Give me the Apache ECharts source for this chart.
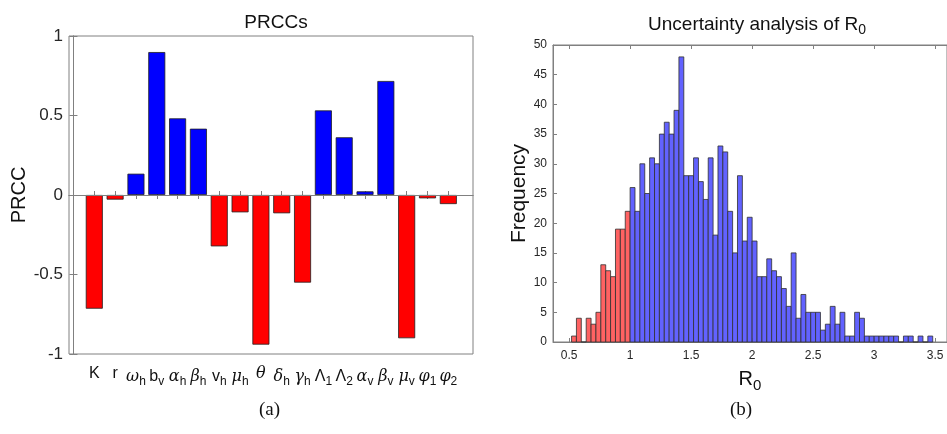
<!DOCTYPE html>
<html>
<head>
<meta charset="utf-8">
<script src="https://cdn.jsdelivr.net/npm/echarts@6/dist/echarts.min.js"></script>
<style>
html,body{margin:0;padding:0;background:#fff;}
#chart{width:947px;height:434px;}
</style>
</head>
<body>
<div id="chart"></div>
<script>
// ---------- Data: PRCC (panel a) ----------
const prccCategories = ['K','r','ω_h','b_v','α_h','β_h','v_h','μ_h','θ','δ_h','γ_h','Λ_1','Λ_2','α_v','β_v','μ_v','φ_1','φ_2'];
const prccValues = [-0.715,-0.029,0.134,0.899,0.482,0.417,-0.323,-0.109,-0.941,-0.115,-0.551,0.532,0.363,0.023,0.717,-0.901,-0.021,-0.057];
const prccTicks = [-1,-0.5,0,0.5,1];

// ---------- Data: R0 histogram (panel b) ----------
const binWidth = 0.04;
const lowStart = 0.52;   // bins below R0 = 1 (red)
const lowCounts = [1,4,0,4,3,5,13,12,11,19,19,22];
const highStart = 1.0;   // bins from R0 = 1 (blue)
const highCounts = [26,22,30,25,31,30,35,37,35,39,48,28,28,31,27,24,31,18,33,32,22,15,28,17,21,17,11,11,14,12,11,9,6,15,4,8,5,5,5,2,3,6,3,5,1,1,5,4,1,1,1,1,1,1,1,0,1,1,0,1,0,1];
const r0Ticks = [0.5,1,1.5,2,2.5,3,3.5];
const freqTicks = [0,5,10,15,20,25,30,35,40,45,50];

// ---------- helpers ----------
const SANS = 'Liberation Sans, Arial, Helvetica, sans-serif';
const greek = 'ωαβμθδγφ';
function labelRich(lbl){
  const parts = lbl.split('_');
  const main = parts[0];
  const style = greek.indexOf(main) >= 0 ? 'g' : 'm';
  let s = '{' + style + '|' + main + '}';
  if (parts.length > 1) s += '{s|' + parts[1] + '}';
  return s;
}
function binsOf(start, counts){
  return counts.map((c,i) => [start + i*binWidth, start + (i+1)*binWidth, c]);
}
function histRender(fill){
  return function(params, api){
    const x0 = api.value(0), x1 = api.value(1), c = api.value(2);
    const p0 = api.coord([x0, c]);
    const p1 = api.coord([x1, 0]);
    return {
      type: 'rect',
      shape: {x: p0[0], y: p0[1], width: p1[0]-p0[0], height: Math.max(p1[1]-p0[1], 0.01)},
      style: {fill: fill, stroke: '#303030', lineWidth: 0.8}
    };
  };
}

const axisGray = '#808080';
const txt = '#262626';
const catIdx = prccCategories.map((c,i)=>i+1);

const chart = echarts.init(document.getElementById('chart'), null, {renderer:'canvas'});
const option = {
  animation: false,
  backgroundColor: '#ffffff',
  title: [
    {text: 'PRCCs', left: 271, top: 8, textAlign: 'center',
     textStyle: {fontFamily: SANS, fontSize: 19, fontWeight: 'normal', color: '#111'}},
    {text: 'Uncertainty analysis of R{s|0}', left: 752, top: 8, textAlign: 'center',
     textStyle: {fontFamily: SANS, fontSize: 19, fontWeight: 'normal', color: '#111',
       rich: {s: {fontFamily: SANS, fontSize: 14, color: '#111', padding: [10,0,0,0]}}}}
  ],
  grid: [
    {left: 69, top: 36, width: 404, height: 318, show: true, borderColor: axisGray, borderWidth: 1, containLabel: false},
    {left: 553, top: 45, width: 399, height: 297, show: true, borderColor: axisGray, borderWidth: 1, containLabel: false}
  ],
  xAxis: [
    {type: 'value', gridIndex: 0, min: -0.215, max: 19.185, position: 'bottom',
     axisLine: {show: true, lineStyle: {color: axisGray}},
     axisTick: {show: true, inside: true, length: 4, customValues: catIdx, lineStyle: {color: axisGray}},
     axisLabel: {show: true, customValues: catIdx, margin: 12, color: '#111',
       formatter: v => labelRich(prccCategories[Math.round(v)-1] || ''),
       rich: {
         m: {fontFamily: SANS, fontSize: 16, color: '#111'},
         g: {fontFamily: 'DejaVu Serif, Liberation Serif, serif', fontStyle: 'italic', fontSize: 16, color: '#111'},
         s: {fontFamily: SANS, fontSize: 12, color: '#111', padding: [10,0,0,0]}
       }},
     splitLine: {show: false}},
    {type: 'value', gridIndex: 0, min: -0.215, max: 19.185, position: 'top',
     axisLine: {show: true, lineStyle: {color: axisGray}},
     axisTick: {show: true, inside: true, length: 4, customValues: catIdx, lineStyle: {color: axisGray}},
     axisLabel: {show: false}, splitLine: {show: false}},
    {type: 'value', gridIndex: 1, min: 0.368, max: 3.597, position: 'bottom',
     name: 'R{s|0}', nameLocation: 'middle', nameGap: 24, nameMoveOverlap: false,
     nameTextStyle: {fontFamily: SANS, fontSize: 20, color: '#111',
       rich: {s: {fontFamily: SANS, fontSize: 15, color: '#111', padding: [12,0,0,0]}}},
     axisLine: {show: true, lineStyle: {color: axisGray}},
     axisTick: {show: true, inside: true, length: 4, customValues: r0Ticks, lineStyle: {color: axisGray}},
     axisLabel: {show: true, customValues: r0Ticks, margin: 8, fontFamily: SANS, fontSize: 12, color: txt},
     splitLine: {show: false}},
    {type: 'value', gridIndex: 1, min: 0.368, max: 3.597, position: 'top',
     axisLine: {show: true, lineStyle: {color: axisGray}},
     axisTick: {show: true, inside: true, length: 4, customValues: r0Ticks, lineStyle: {color: axisGray}},
     axisLabel: {show: false}, splitLine: {show: false}}
  ],
  yAxis: [
    {type: 'value', gridIndex: 0, min: -1, max: 1, interval: 0.5, position: 'left',
     name: 'PRCC', nameLocation: 'middle', nameGap: 28, nameRotate: 90,
     nameTextStyle: {fontFamily: SANS, fontSize: 20, color: '#111'},
     axisLine: {show: true, lineStyle: {color: axisGray}},
     axisTick: {show: true, inside: true, length: 4, lineStyle: {color: axisGray}},
     axisLabel: {margin: 6, fontFamily: SANS, fontSize: 17, color: txt},
     splitLine: {show: false}},
    {type: 'value', gridIndex: 0, min: -1, max: 1, interval: 0.5, position: 'right',
     axisLine: {show: true, lineStyle: {color: axisGray}},
     axisTick: {show: true, inside: true, length: 4, lineStyle: {color: axisGray}},
     axisLabel: {show: false}, splitLine: {show: false}},
    {type: 'value', gridIndex: 1, min: 0, max: 50, interval: 5, position: 'left',
     name: 'Frequency', nameLocation: 'middle', nameGap: 23, nameRotate: 90, nameMoveOverlap: false,
     nameTextStyle: {fontFamily: SANS, fontSize: 21, color: '#111'},
     axisLine: {show: true, lineStyle: {color: axisGray}},
     axisTick: {show: true, inside: true, length: 4, customValues: freqTicks, lineStyle: {color: axisGray}},
     axisLabel: {margin: 6, fontFamily: SANS, fontSize: 12, color: txt},
     splitLine: {show: false}}
  ],
  series: [
    {type: 'bar', xAxisIndex: 0, yAxisIndex: 0, barWidth: 17,
     data: prccValues.map((v,i) => ({value: [i+1, v],
       itemStyle: {color: v >= 0 ? '#0000ff' : '#ff0000', borderColor: '#202020', borderWidth: 0.8}})),
     markLine: {silent: true, symbol: 'none', label: {show: false},
       lineStyle: {color: axisGray, type: 'solid', width: 1},
       data: [{yAxis: 0}]}},
    {type: 'custom', xAxisIndex: 2, yAxisIndex: 2, renderItem: histRender('#ff6262'),
     encode: {x: [0,1], y: 2}, data: binsOf(lowStart, lowCounts)},
    {type: 'custom', xAxisIndex: 2, yAxisIndex: 2, renderItem: histRender('#6262ff'),
     encode: {x: [0,1], y: 2}, data: binsOf(highStart, highCounts)}
  ],
  graphic: [
    {type: 'text', left: 259, top: 401, style: {text: '(a)', font: '19px "Liberation Serif", "DejaVu Serif", serif', fill: '#111'}},
    {type: 'text', left: 730, top: 401, style: {text: '(b)', font: '19px "Liberation Serif", "DejaVu Serif", serif', fill: '#111'}}
  ]
};
chart.setOption(option);
</script>
</body>
</html>
